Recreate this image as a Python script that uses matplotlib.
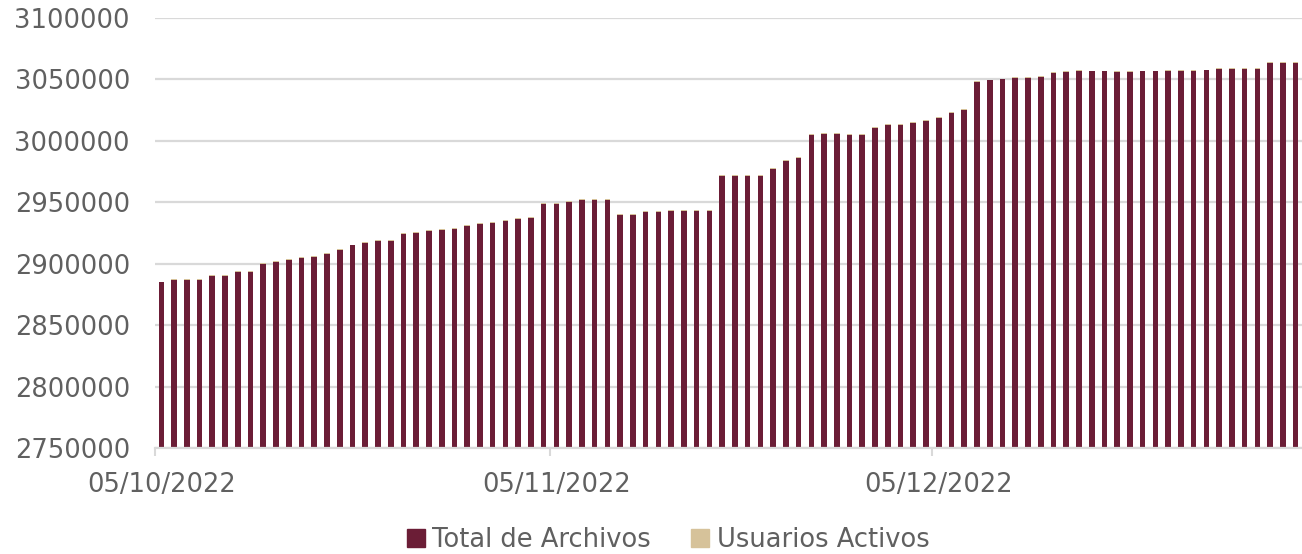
import numpy as np
import matplotlib
matplotlib.use('Agg')
import matplotlib.pyplot as plt
from matplotlib.patches import Patch
from matplotlib.ticker import FuncFormatter

# Daily values, 05/10/2022 .. 02/01/2023
total_archivos = [
    2884800, 2886600, 2886600, 2886600, 2890400, 2890400, 2893100, 2893100,
    2900000, 2901600, 2903000, 2904600, 2905700, 2907800, 2911400, 2914900,
    2916800, 2918500, 2918500, 2924600, 2925400, 2926500, 2927600, 2928400,
    2930500, 2932700, 2933500, 2934600, 2936200, 2937500, 2949000, 2949000,
    2950500, 2951600, 2952100, 2952100, 2939700, 2939700, 2942000, 2942200,
    2943000, 2943000, 2943000, 2943000, 2971100, 2971600, 2971600, 2971600,
    2976800, 2983300, 2986000, 3004900, 3005700, 3005700, 3004900, 3004900,
    3010500, 3013000, 3013000, 3014900, 3016500, 3018900, 3022700, 3025200,
    3047800, 3049200, 3050000, 3051100, 3051400, 3052200, 3055100, 3056200,
    3057000, 3056500, 3056500, 3056000, 3056000, 3056500, 3056500, 3056800,
    3057000, 3057000, 3057300, 3058400, 3058400, 3058400, 3058400, 3063200,
    3063700, 3063700,
]
# second series: tiny, only shows as a thin cap on each bar
usuarios_activos = [
    650, 650, 640, 640, 660, 660, 650, 650, 670, 670, 660, 660, 670, 670, 680,
    680, 670, 670, 660, 680, 680, 690, 690, 680, 690, 690, 700, 700, 690, 700,
    700, 700, 710, 710, 700, 700, 690, 690, 700, 700, 710, 710, 700, 700, 720,
    720, 710, 710, 720, 720, 730, 730, 720, 720, 730, 730, 740, 740, 730, 730,
    740, 740, 750, 750, 740, 740, 750, 750, 740, 740, 750, 750, 740, 740, 750,
    750, 740, 740, 750, 750, 740, 740, 750, 750, 760, 760, 750, 750, 760, 760,
]
tick_pos = [0, 31, 61]
tick_labels = ['05/10/2022', '05/11/2022', '05/12/2022']
series_names = ['Total de Archivos', 'Usuarios Activos']

c_total = '#6b1d36'
c_users = '#d6c29a'
grey = '#606060'
grid_c = '#d9d9d9'

plt.rcParams['font.family'] = ['DejaVu Sans']

fig = plt.figure(figsize=(13.02, 5.54), dpi=100)
ax = fig.add_axes([0.119, 0.1913, 0.881, 0.7762])

x = np.arange(len(total_archivos))
ax.bar(x, total_archivos, width=0.44, color=c_total, zorder=2)
ax.bar(x, usuarios_activos, width=0.44, bottom=total_archivos,
       color=c_users, zorder=2)

ax.set_ylim(2750000, 3100000)
ax.set_yticks(np.arange(2750000, 3100001, 50000))
ax.yaxis.set_major_formatter(FuncFormatter(lambda v, p: '%d' % v))
ax.set_xlim(-0.5, len(total_archivos) - 0.5)

ax.set_xticks(tick_pos)
ax.set_xticklabels(tick_labels)
ax.set_xticks([-0.5, 30.5, 60.5], minor=True)
ax.tick_params(axis='x', which='major', length=0, pad=17,
               labelsize=18.5, labelcolor=grey)
ax.tick_params(axis='x', which='minor', length=6, width=1.5, color=grid_c)
ax.tick_params(axis='y', length=0, pad=18, labelsize=18.5, labelcolor=grey)

ax.grid(axis='y', color=grid_c, linewidth=1.6, zorder=0)
ax.set_axisbelow(True)
for s in ['top', 'right', 'left']:
    ax.spines[s].set_visible(False)
ax.spines['bottom'].set_color(grid_c)
ax.spines['bottom'].set_linewidth(1.6)

handles = [Patch(color=c_total), Patch(color=c_users)]
fig.legend(handles, series_names, loc='center', bbox_to_anchor=(0.513, 0.026),
           ncol=2, frameon=False, fontsize=18.5, labelcolor=grey,
           handlelength=0.7, handleheight=0.7, handletextpad=0.3,
           columnspacing=1.55)

plt.savefig('out.png', dpi=100)
